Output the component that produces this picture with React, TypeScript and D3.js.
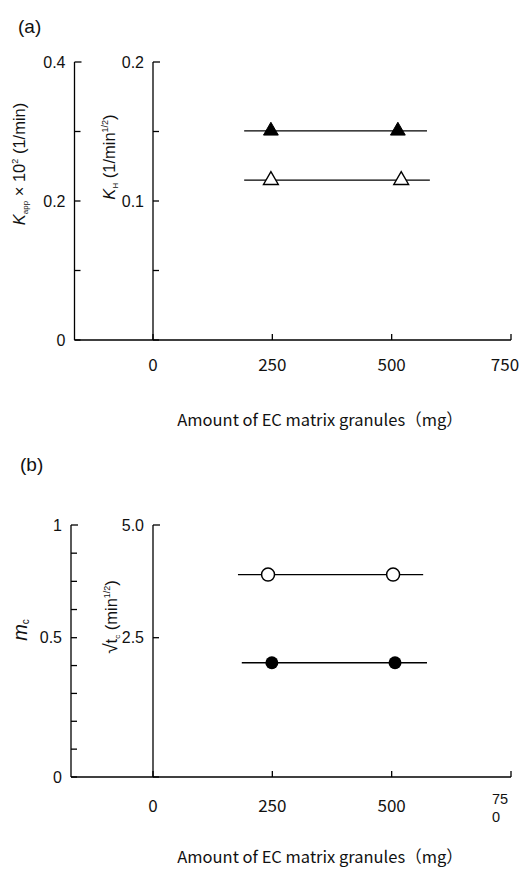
import React from "react";
import * as d3 from "d3";

// ---------- data ----------
const xTicks = [0, 250, 500, 750];

// panel (a)
const outerTicksA = [0, 0.1, 0.2, 0.3, 0.4];
const outerLabelsA = [0, 0.2, 0.4];
const innerTicksA = [0, 0.05, 0.1, 0.15, 0.2];
const innerLabelsA = [0, 0.1, 0.2];
// filled triangles: K_app x 10^2 (outer axis)
const mgKapp = [247, 513];
const kApp = [0.301, 0.301];
const kAppLine = [191, 574];
// open triangles: K_H (inner axis)
const mgKH = [247, 520];
const kH = [0.115, 0.115];
const kHLine = [191, 580];

// panel (b)
const outerTicksB = [0, 0.1, 0.2, 0.3, 0.4, 0.5, 0.625, 0.75, 0.875, 1];
const outerLabelsB = [
  { v: 0, t: "0" },
  { v: 0.5, t: "0.5" },
  { v: 1, t: "1" },
];
const innerTicksB = [0, 2.5, 5];
const innerLabelsB = [
  { v: 2.5, t: "2.5" },
  { v: 5, t: "5.0" },
];
// open circles: sqrt(tc) (inner axis)
const mgTc = [241, 503];
const sqrtTc = [3.9, 3.9];
const tcLine = [178, 566];
// filled circles: m_c (outer axis)
const mgMc = [249, 507];
const mc = [0.41, 0.41];
const mcLine = [186, 574];

// ---------- layout ----------
const W = 528;
const H = 869;
const x = d3.scaleLinear().domain([0, 750]).range([153, 511]);

const A = { outerX: 74.5, top: 62, bottom: 340 };
const B = { outerX: 71, top: 525, bottom: 777 };

const yOuterA = d3.scaleLinear().domain([0, 0.4]).range([A.bottom, A.top]);
const yInnerA = d3.scaleLinear().domain([0, 0.2]).range([A.bottom, A.top]);
const yOuterB = d3.scaleLinear().domain([0, 0.5, 1]).range([B.bottom, 637.7, B.top]);
const yInnerB = d3.scaleLinear().domain([0, 2.5, 5]).range([B.bottom, 637.7, B.top]);

const tri = d3.symbol().type(d3.symbolTriangle).size(95)();

const SANS = "'Liberation Sans', Arial, Helvetica, sans-serif";
const GOTHIC = "'Noto Sans CJK JP', 'Liberation Sans', sans-serif";
const SW = 1.3;
const TICK = 6;

function YAxis({ ax, scale, ticks, labels, top }: any) {
  const bottom = scale.range()[0];
  return (
    <g>
      <line x1={ax} x2={ax} y1={top} y2={bottom} stroke="#000" strokeWidth={SW} />
      {ticks.map((t: number, i: number) => (
        <line key={i} x1={ax} x2={ax + TICK + (scale(t) === top ? 1 : 0)} y1={scale(t)} y2={scale(t)} stroke="#000" strokeWidth={SW} />
      ))}
      {labels.map((l: any, i: number) => (
        <text key={i} x={ax - 9} y={scale(l.v)} dy="0.36em" textAnchor="end" fontFamily={SANS} fontSize={16} fill="#111">
          {l.t}
        </text>
      ))}
    </g>
  );
}

function XAxis({ x0, y, labelY, titleY, split }: any) {
  return (
    <g>
      <line x1={x0} x2={x(750)} y1={y} y2={y} stroke="#000" strokeWidth={SW} />
      {xTicks.map((t) => (
        <line key={t} x1={x(t)} x2={x(t)} y1={y} y2={y - TICK} stroke="#000" strokeWidth={SW} />
      ))}
      {xTicks.map((t) =>
        split && t === 750 ? (
          <g key={t}>
            <text x={x(t) - 19} y={labelY - 8} fontFamily={SANS} fontSize={14.5} fill="#111">75</text>
            <text x={x(t) - 19} y={labelY + 10} fontFamily={SANS} fontSize={14.5} fill="#111">0</text>
          </g>
        ) : (
          <text key={t} x={t === 750 ? x(t) - 6 : x(t)} y={labelY} textAnchor="middle" fontFamily={GOTHIC} fontSize={17} fill="#111">
            {String(t)}
          </text>
        )
      )}
      <text x={320} y={titleY} textAnchor="middle" fontFamily={GOTHIC} fontSize={16.5} fill="#111">
        Amount of EC matrix granules（mg）
      </text>
    </g>
  );
}

export default function App() {
  return (
    <div style={{ position: "absolute", left: 0, top: 0 }}>
      <svg width={W} height={H} viewBox={`0 0 ${W} ${H}`} style={{ display: "block", background: "#fff" }}>
        <rect width={W} height={H} fill="#fff" />

        {/* ---------------- panel (a) ---------------- */}
        <text x={18} y={33} fontFamily={SANS} fontSize={19} fill="#111">(a)</text>

        <YAxis ax={A.outerX} scale={yOuterA} ticks={outerTicksA} top={A.top}
          labels={outerLabelsA.map((v) => ({ v, t: v === 0 ? "0" : v.toFixed(1) }))} />
        <YAxis ax={x(0)} scale={yInnerA} ticks={innerTicksA} top={A.top}
          labels={innerLabelsA.map((v) => ({ v, t: v === 0 ? "" : v.toFixed(1) }))} />
        <XAxis x0={A.outerX} y={A.bottom} labelY={371} titleY={426} />

        <text transform={`translate(25,164) rotate(-90)`} textAnchor="middle" fontFamily={SANS} fontSize={16.5} fill="#111">
          <tspan fontStyle="italic">K</tspan>
          <tspan fontSize={8} dy={3}>app</tspan>
          <tspan dy={-3}> × 10</tspan>
          <tspan fontSize={9} dy={-7}>2</tspan>
          <tspan dy={7}> (1/min)</tspan>
        </text>
        <text transform={`translate(115,157) rotate(-90)`} textAnchor="middle" fontFamily={SANS} fontSize={16.5} fill="#111">
          <tspan fontStyle="italic">K</tspan>
          <tspan fontSize={8} dy={3}>H</tspan>
          <tspan dy={-3}> (1/min</tspan>
          <tspan fontSize={9} dy={-7}>1/2</tspan>
          <tspan dy={7}>)</tspan>
        </text>

        {/* data (a) */}
        <line x1={x(kAppLine[0])} x2={x(kAppLine[1])} y1={yOuterA(kApp[0])} y2={yOuterA(kApp[1])} stroke="#000" strokeWidth={SW} />
        <line x1={x(kHLine[0])} x2={x(kHLine[1])} y1={yInnerA(kH[0])} y2={yInnerA(kH[1])} stroke="#000" strokeWidth={SW} />
        {mgKapp.map((m, i) => (
          <path key={"f" + i} d={tri as string} transform={`translate(${x(m)},${yOuterA(kApp[i])})`} fill="#000" stroke="#000" strokeWidth={1} />
        ))}
        {mgKH.map((m, i) => (
          <path key={"o" + i} d={tri as string} transform={`translate(${x(m)},${yInnerA(kH[i])})`} fill="#fff" stroke="#000" strokeWidth={1.4} />
        ))}

        {/* ---------------- panel (b) ---------------- */}
        <text x={20} y={471} fontFamily={SANS} fontSize={19} fill="#111">(b)</text>

        <YAxis ax={B.outerX} scale={yOuterB} ticks={outerTicksB} top={B.top} labels={outerLabelsB} />
        <YAxis ax={x(0)} scale={yInnerB} ticks={innerTicksB} top={B.top} labels={innerLabelsB} />
        <XAxis x0={B.outerX} y={B.bottom} labelY={812} titleY={863} split />

        <text transform={`translate(27,630) rotate(-90)`} textAnchor="middle" fontFamily={SANS} fontSize={20} fill="#111">
          <tspan fontStyle="italic">m</tspan>
          <tspan fontSize={10} dy={2}>c</tspan>
        </text>
        <text transform={`translate(117,617) rotate(-90)`} textAnchor="middle" fontFamily={SANS} fontSize={16.5} fill="#111">
          <tspan fontSize={19}>√</tspan>
          <tspan>t</tspan>
          <tspan fontSize={8} dy={3}>c</tspan>
          <tspan dy={-3}> (min</tspan>
          <tspan fontSize={9} dy={-7}>1/2</tspan>
          <tspan dy={7}>)</tspan>
        </text>

        {/* data (b) */}
        <line x1={x(tcLine[0])} x2={x(tcLine[1])} y1={yInnerB(sqrtTc[0])} y2={yInnerB(sqrtTc[1])} stroke="#000" strokeWidth={SW} />
        <line x1={x(mcLine[0])} x2={x(mcLine[1])} y1={yOuterB(mc[0])} y2={yOuterB(mc[1])} stroke="#000" strokeWidth={SW} />
        {mgTc.map((m, i) => (
          <circle key={"oc" + i} cx={x(m)} cy={yInnerB(sqrtTc[i])} r={6.5} fill="#fff" stroke="#000" strokeWidth={1.5} />
        ))}
        {mgMc.map((m, i) => (
          <circle key={"fc" + i} cx={x(m)} cy={yOuterB(mc[i])} r={6.5} fill="#000" />
        ))}
      </svg>
    </div>
  );
}
